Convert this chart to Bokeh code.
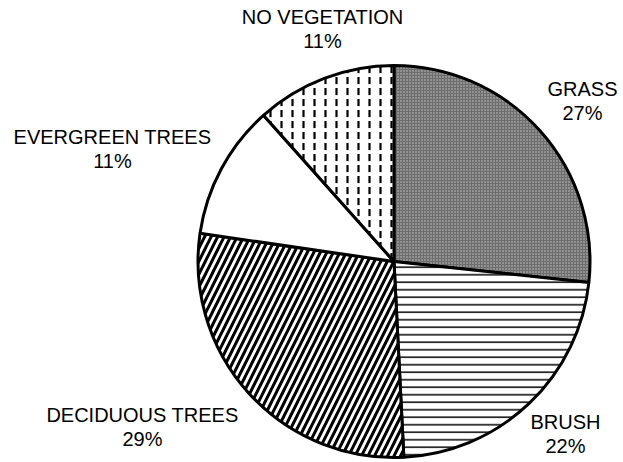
import math
from bokeh.plotting import figure
from bokeh.models import Range1d, ColumnDataSource
from bokeh.core.properties import value
from bokeh.embed import file_html
from bokeh.resources import INLINE

# data
categories = ["GRASS", "BRUSH", "DECIDUOUS TREES", "EVERGREEN TREES", "NO VEGETATION"]
shares = [26.7, 22.5, 28.1, 11.1, 11.6]          # drawn slice sizes (percent)
pct_labels = ["27%", "22%", "29%", "11%", "11%"]  # printed labels

# styles
fills = ["#6e6e6e", "white", "white", "white", "white"]
hatches = ["dot", "horizontal_line", "right_diagonal_line", " ", "vertical_dash"]
hatch_colors = ["#c4c4c4", "black", "black", "black", "black"]
hatch_scales = [3.0, 7.5, 13.0, 10.0, 11.0]
hatch_weights = [1.0, 1.5, 3.0, 1.0, 2.2]

# label positions in picture pixels (name line centre)
label_x = [582, 565, 142, 112, 322]
label_y = [88, 421, 414, 136, 16]
line_gap = 24

W, H = 623, 462
p = figure(width=W, height=H, output_backend="svg", toolbar_location=None,
           x_range=Range1d(0, W), y_range=Range1d(0, H),
           min_border=0)
p.axis.visible = False
p.grid.visible = False
p.outline_line_color = None
p.background_fill_color = "white"

cx, cy, r = 393.5, H - 261, 196
cum = 0.0
for i, s in enumerate(shares):
    start = math.pi / 2 - 2 * math.pi * cum / 100.0
    end = math.pi / 2 - 2 * math.pi * (cum + s) / 100.0
    cum += s
    src = ColumnDataSource(dict(x=[cx], y=[cy], start=[start], end=[end]))
    p.wedge(x="x", y="y", radius=r, start_angle="start", end_angle="end",
            direction="clock", source=src,
            fill_color=fills[i], line_color="black", line_width=3,
            hatch_pattern=hatches[i], hatch_color=hatch_colors[i],
            hatch_scale=hatch_scales[i], hatch_weight=hatch_weights[i])

names_src = ColumnDataSource(dict(
    x=label_x, y=[H - v for v in label_y], t=categories))
pct_src = ColumnDataSource(dict(
    x=label_x, y=[H - v - line_gap for v in label_y], t=pct_labels))
for src in (names_src, pct_src):
    p.text(x="x", y="y", text="t", source=src, text_align="center",
           text_baseline="middle", text_font=value("Liberation Sans"),
           text_font_size="20px", text_color="black")

open("out.html", "w").write(file_html(p, INLINE))
